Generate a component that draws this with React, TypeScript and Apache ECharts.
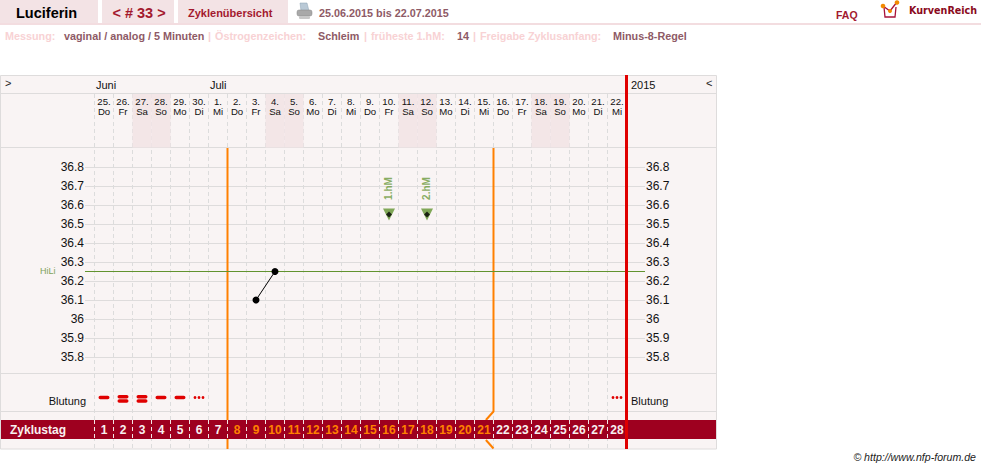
import React, { useEffect, useRef } from "react";
import * as echarts from "echarts";

const dayNumbers = ["25.","26.","27.","28.","29.","30.","1.","2.","3.","4.","5.","6.","7.","8.","9.","10.","11.","12.","13.","14.","15.","16.","17.","18.","19.","20.","21.","22."];
const weekdays = ["Do","Fr","Sa","So","Mo","Di","Mi","Do","Fr","Sa","So","Mo","Di","Mi","Do","Fr","Sa","So","Mo","Di","Mi","Do","Fr","Sa","So","Mo","Di","Mi"];
const cycleDays = ["1","2","3","4","5","6","7","8","9","10","11","12","13","14","15","16","17","18","19","20","21","22","23","24","25","26","27","28"];
const fertileDays = ["8","9","10","11","12","13","14","15","16","17","18","19","20","21"];
const tempTicks = { min: 35.8, max: 36.9, step: 0.1 };
const temperatures = [[9, 36.1], [10, 36.25]];
const peakDays = [[16, 36.55, "1.hM"], [18, 36.55, "2.hM"]];
const coverline = 36.25;
const bleeding = [[1, "single"], [2, "double"], [3, "double"], [4, "single"], [5, "single"], [6, "dots"], [28, "dots"]];
const fertileStartLine = [[7, 148], [7, 449]];
const fertileEndTop = [[21, 148], [21, 411.5], [20.6, 420]];
const fertileEndBottom = [[20.6, 440], [21, 448.5]];
const cycleEndLine = [[28, 75], [28, 449]];

const BG = "#f9f4f4", LINE = "#dedcdc", DARKRED = "#9e001f", ORANGE = "#ff8000", RED = "#e00000", GREEN = "#62932f", PINK = "#f3e3e5";
const FONT = "Liberation Sans";

const t = (text: string, x: number, y: number, size: number, fill: string, weight = "normal", align = "left", z = 6, extra: any = {}) => ({
  type: "text", x, y, z,
  style: { text, fontSize: size, fontWeight: weight, fontFamily: FONT, fill, textAlign: align, textVerticalAlign: "middle", ...extra },
});
const rect = (x: number, y: number, w: number, h: number, fill: string, z = -1) => ({ type: "rect", z, shape: { x, y, width: w, height: h }, style: { fill } });
const hline = (y: number) => ({ type: "line", z: 1, shape: { x1: 1, y1: y, x2: 716, y2: y }, style: { stroke: LINE, lineWidth: 1 } });

const hiddenAxis = { axisLine: { show: false }, axisTick: { show: false }, axisLabel: { show: false }, splitLine: { show: false } };
const LEFT = 94.5, WIDTH = 532;

function buildOption() {
  const lightLabel = "#f8d2d4", value = "#8e5a66";
  const graphic: any[] = [
    rect(0, 0, 98, 23, PINK), rect(102, 0, 72, 23, PINK), rect(178, 0, 110, 23, PINK), rect(0, 23, 981, 2, "#f3dde0"),
    rect(0.5, 75.5, 716, 373.5, BG),
    { type: "rect", z: 1, shape: { x: 0.5, y: 75.5, width: 716, height: 373.5 }, style: { fill: "none", stroke: LINE, lineWidth: 1 } },
    hline(93.5), hline(147.5), hline(373.5), hline(411.5),
    rect(1, 420, 715, 19, DARKRED, 3),
    t("Luciferin", 16, 13, 14.5, "#000", "bold"),
    t("< # 33 >", 139, 13, 14.5, "#a3192e", "bold", "center"),
    t("Zyklenübersicht", 188, 13, 11, "#a3192e", "bold"),
    t("25.06.2015 bis 22.07.2015", 319, 12.5, 10.8, "#8e5a66", "bold"),
    t("FAQ", 836, 14.5, 10.5, "#a3192e", "bold"),
    t("KurvenReich", 909, 10.5, 9.6, "#8a0a20", "bold", "left", 6, { fontFamily: "DejaVu Sans" }),
    t("Messung:", 5, 36, 10.8, lightLabel, "bold"),
    t("vaginal / analog / 5 Minuten", 64, 36, 10.8, value, "bold"),
    t("|", 208, 36, 10.8, lightLabel, "bold"),
    t("Östrogenzeichen:", 215, 36, 10.8, lightLabel, "bold"),
    t("Schleim", 318, 36, 10.8, value, "bold"),
    t("|", 364, 36, 10.8, lightLabel, "bold"),
    t("früheste 1.hM:", 371, 36, 10.8, lightLabel, "bold"),
    t("14", 457, 36, 10.8, value, "bold"),
    t("|", 473, 36, 10.8, lightLabel, "bold"),
    t("Freigabe Zyklusanfang:", 480, 36, 10.8, lightLabel, "bold"),
    t("Minus-8-Regel", 613, 36, 10.8, value, "bold"),
    t(">", 5, 83, 11, "#222"),
    t("Juni", 96, 85, 11, "#111"),
    t("Juli", 210, 85, 11, "#111"),
    t("2015", 631, 85, 11, "#111"),
    t("<", 706, 83, 11, "#222"),
    t("HiLi", 40, 270.5, 9, "#7fa35a"),
    t("Blutung", 86, 401, 11, "#111", "normal", "right"),
    t("Blutung", 631, 401, 11, "#111"),
    t("Zyklustag", 10, 430, 12, "#f8f0f0", "bold"),
    t("© http://www.nfp-forum.de", 976, 457, 10.6, "#222", "normal", "right", 6, { fontStyle: "italic" }),
    // printer icon
    { type: "polygon", z: 6, shape: { points: [[300, 3], [307, 3], [309, 11], [301, 11]] }, style: { fill: "#b9c9d6", stroke: "#8aa0b2", lineWidth: 0.5 } },
    { type: "rect", z: 6, shape: { x: 297, y: 10, width: 15, height: 6, r: 2 }, style: { fill: "#a9a9a9", stroke: "#858585", lineWidth: 0.5 } },
    { type: "rect", z: 6, shape: { x: 299, y: 16, width: 11, height: 3, r: 1 }, style: { fill: "#c8c8c8" } },
    // KurvenReich logo
    { type: "polyline", z: 6, shape: { points: [[884, 7], [885, 17], [895, 17], [896, 7]] }, style: { fill: "none", stroke: "#a8123a", lineWidth: 1.3 } },
    { type: "polyline", z: 6, shape: { points: [[883, 6], [890, 11], [897, 2]] }, style: { fill: "none", stroke: "#a8123a", lineWidth: 1.3 } },
    { type: "circle", z: 7, shape: { cx: 883, cy: 6, r: 2.3 }, style: { fill: "#f28a00" } },
    { type: "circle", z: 7, shape: { cx: 890, cy: 11, r: 2 }, style: { fill: "#f28a00" } },
    { type: "circle", z: 7, shape: { cx: 897, cy: 2.5, r: 2.3 }, style: { fill: "#f28a00" } },
  ];

  const tempY = (position: string, margin: number, align: string) => ({
    type: "value", gridIndex: 3, position, min: tempTicks.min, max: tempTicks.max, interval: tempTicks.step,
    axisLine: { show: false }, axisTick: { show: false },
    splitLine: position === "left" ? { show: true, showMaxLine: false, lineStyle: { color: LINE, width: 1 } } : { show: false },
    axisLabel: {
      margin, align, fontSize: 12, fontFamily: FONT, color: "#111",
      formatter: (v: number) => (v > 36.85 ? "" : String(+v.toFixed(1))),
    },
  });

  return {
    animation: false,
    backgroundColor: "#fff",
    graphic: { elements: graphic },
    grid: [
      { left: LEFT, width: WIDTH, top: 94, height: 355 },
      { left: LEFT, width: WIDTH, top: 75, height: 374 },
      { left: LEFT, width: WIDTH, top: 94, height: 53.5 },
      { left: 85, width: 560, top: 148, height: 209 },
      { left: LEFT, width: WIDTH, top: 420, height: 19 },
      { left: LEFT, width: WIDTH, top: 392, height: 11 },
    ],
    xAxis: [
      { type: "value", gridIndex: 0, min: 0, max: 28, interval: 1, ...hiddenAxis, splitLine: { show: true, lineStyle: { color: "#dcdcdc", type: [4, 3], width: 1 } } },
      { type: "value", gridIndex: 1, min: 0, max: 28, ...hiddenAxis },
      {
        type: "category", gridIndex: 2, position: "top", data: dayNumbers.map((d, i) => d + "\n" + weekdays[i]), z: 3,
        axisLine: { show: false }, axisTick: { show: false }, splitLine: { show: false },
        axisLabel: { interval: 0, inside: true, margin: 2, fontSize: 9.6, lineHeight: 10.5, fontFamily: FONT, color: "#111" },
      },
      { type: "value", gridIndex: 3, min: -0.5, max: 28.974, ...hiddenAxis },
      {
        type: "category", gridIndex: 4, data: cycleDays, z: 5,
        axisLine: { show: false }, axisTick: { show: false },
        splitLine: { show: true, interval: 0, lineStyle: { color: "#f4e6e6", type: [4, 3], width: 1 } },
        axisLabel: {
          interval: 0, inside: true, margin: 3, fontSize: 12, fontWeight: "bold", fontFamily: FONT,
          color: (v: string) => (fertileDays.includes(v) ? ORANGE : "#f8f0f0"),
        },
      },
      { type: "value", gridIndex: 5, min: 0, max: 28, ...hiddenAxis },
    ],
    yAxis: [
      { type: "value", gridIndex: 0, min: 0, max: 1, ...hiddenAxis },
      { type: "value", gridIndex: 1, min: 75, max: 449, inverse: true, ...hiddenAxis },
      { type: "value", gridIndex: 2, min: 0, max: 1, ...hiddenAxis },
      tempY("left", 1, "right"),
      tempY("right", 1, "left"),
      { type: "value", gridIndex: 4, min: 0, max: 1, ...hiddenAxis },
      { type: "value", gridIndex: 5, min: 0, max: 1, ...hiddenAxis },
    ],
    series: [
      {
        type: "bar", xAxisIndex: 2, yAxisIndex: 2, barWidth: "100%", silent: true, z: 1,
        data: weekdays.map((w) => (w === "Sa" || w === "So" ? 1 : 0)),
        itemStyle: { color: "#f3e6e7" },
      },
      ...[fertileStartLine, fertileEndTop, fertileEndBottom].map((data) => ({
        type: "line", xAxisIndex: 1, yAxisIndex: 1, data, showSymbol: false, symbol: "none", z: 2, silent: true,
        lineStyle: { color: ORANGE, width: 2 },
      })),
      {
        type: "line", xAxisIndex: 1, yAxisIndex: 1, data: cycleEndLine, symbol: "none", z: 8, silent: true,
        lineStyle: { color: RED, width: 3 },
      },
      {
        type: "line", xAxisIndex: 3, yAxisIndex: 3, symbol: "none", z: 3, silent: true,
        data: [[-0.5, coverline], [28.974, coverline]],
        lineStyle: { color: GREEN, width: 1 },
      },
      {
        type: "line", xAxisIndex: 3, yAxisIndex: 3, z: 4, symbol: "circle", symbolSize: 7, silent: true,
        data: temperatures.map(([d, v]) => [d - 0.5, v]),
        lineStyle: { color: "#000", width: 1 }, itemStyle: { color: "#000" },
      },
      {
        type: "scatter", xAxisIndex: 3, yAxisIndex: 3, z: 4, symbol: "triangle", symbolRotate: 180, symbolSize: 12, silent: true,
        data: peakDays.map(([d, v, name]) => ({ value: [(d as number) - 0.5, v], name })),
        itemStyle: { color: GREEN },
        label: {
          show: true, position: "inside", offset: [26, 0], rotate: 90, align: "center", verticalAlign: "middle",
          formatter: (p: any) => p.name, fontSize: 10, fontWeight: "bold", fontFamily: FONT, color: "#6a9a3a",
        },
      },
      {
        type: "scatter", xAxisIndex: 3, yAxisIndex: 3, z: 5, symbol: "diamond", symbolSize: 6, silent: true,
        data: peakDays.map(([d, v]) => [(d as number) - 0.5, v]),
        itemStyle: { color: "#000" },
      },
      {
        type: "custom", xAxisIndex: 5, yAxisIndex: 6, z: 4, silent: true,
        data: bleeding.map(([d, kind]) => [(d as number) - 0.5, 0.5, kind]),
        renderItem: (_: any, api: any) => {
          const [cx, cy] = api.coord([api.value(0), api.value(1)]);
          const kind = bleeding[_.dataIndex][1];
          const style = { fill: RED };
          const dash = (y: number) => ({ type: "rect", shape: { x: cx - 5.5, y: y - 1.75, width: 11, height: 3.5, r: 1.75 }, style });
          const dot = (x: number) => ({ type: "circle", shape: { cx: x, cy, r: 1.4 }, style });
          if (kind === "single") return dash(cy);
          if (kind === "double") return { type: "group", children: [dash(cy - 0.8), dash(cy + 3.5)] };
          return { type: "group", children: [dot(cx - 4), dot(cx), dot(cx + 4)] };
        },
      },
    ],
  };
}

export default function App() {
  const ref = useRef<HTMLDivElement>(null);
  useEffect(() => {
    document.body.style.margin = "0";
    const chart = echarts.init(ref.current!, undefined, { renderer: "svg" });
    chart.setOption(buildOption() as any);
    return () => chart.dispose();
  }, []);
  return <div ref={ref} style={{ position: "absolute", left: 0, top: 0, width: 981, height: 469 }} />;
}
